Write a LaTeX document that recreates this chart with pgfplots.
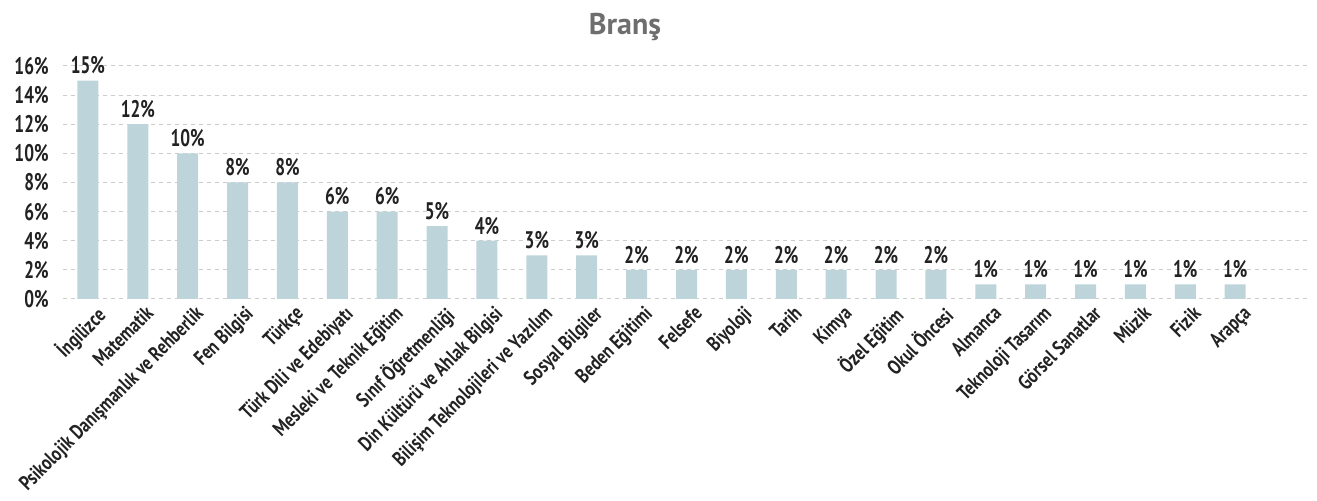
\documentclass[border=0pt]{standalone}
\usepackage{fontspec}
\setmainfont{PT Sans}[FakeStretch=0.8]
\newfontfamily\titlefont{PT Sans}
\newfontfamily\numfont{PT Sans}[FakeStretch=0.72]
\usepackage{pgfplots}
\pgfplotsset{compat=1.18}
\definecolor{barc}{HTML}{BDD4DA}
\definecolor{gridc}{HTML}{CCCCCC}
\definecolor{txt}{HTML}{222222}
\definecolor{titlec}{HTML}{6E6E6E}
\begin{document}
\begin{tikzpicture}
\begin{axis}[
  name=ax,
  at={(0,0)}, anchor=south west,
  scale only axis,
  width=623.5pt, height=116.5pt,
  xmin=-0.5, xmax=24.5,
  ymin=0, ymax=16,
  ytick={0,2,...,16},
  /pgf/number format/assume math mode=true,
  yticklabel={\pgfmathprintnumber{\tick}\%},
  yticklabel style={font=\numfont\fontsize{12}{13}\selectfont\bfseries, text=txt, inner sep=1pt, xshift=-6pt},
  xtick={0,...,23},
  xticklabels={İngilizce, Matematik, Psikolojik Danışmanlık ve Rehberlik, Fen Bilgisi, Türkçe, Türk Dili ve Edebiyatı, Mesleki ve Teknik Eğitim, Sınıf Öğretmenliği, Din Kültürü ve Ahlak Bilgisi, Bilişim Teknolojileri ve Yazılım, Sosyal Bilgiler, Beden Eğitimi, Felsefe, Biyoloji, Tarih, Kimya, Özel Eğitim, Okul Öncesi, Almanca, Teknoloji Tasarım, Görsel Sanatlar, Müzik, Fizik, Arapça},
  xticklabel style={rotate=45, anchor=north east, font=\fontsize{10.3}{11}\selectfont\bfseries, text=txt, inner sep=1pt, xshift=1.5pt, yshift=-3pt},
  major tick length=0pt,
  axis line style={draw=none},
  ymajorgrids,
  major grid style={gridc, dash pattern=on 2pt off 2pt, line width=0.5pt},
  clip=false,
  ybar,
  bar width=10.5pt,
  nodes near coords={\pgfmathprintnumber{\pgfplotspointmeta}\%},
  nodes near coords style={font=\numfont\fontsize{12}{13}\selectfont\bfseries, text=txt, inner sep=3pt},
]
\addplot[fill=barc, draw=none] coordinates {
(0,15) (1,12) (2,10) (3,8) (4,8) (5,6) (6,6) (7,5) (8,4) (9,3) (10,3) (11,2) (12,2) (13,2) (14,2) (15,2) (16,2) (17,2) (18,1) (19,1) (20,1) (21,1) (22,1) (23,1)
};
\node[font=\titlefont\fontsize{15}{16}\selectfont\bfseries, text=titlec] at (rel axis cs:0.4507,1.167) {Branş};
\end{axis}
\pgfresetboundingbox
\path (ax.south west) ++(-31.5pt,-101pt) rectangle ++(658.5pt,250.5pt);
\end{tikzpicture}
\end{document}
